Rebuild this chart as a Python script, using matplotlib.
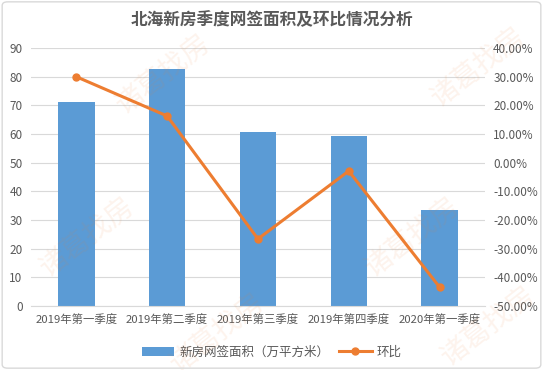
import matplotlib.pyplot as plt
import numpy as np
from matplotlib.patches import FancyBboxPatch
from matplotlib.ticker import FuncFormatter

plt.rcParams['font.family'] = ['Noto Sans CJK SC', 'DejaVu Sans']

quarters = ["2019年第一季度", "2019年第二季度", "2019年第三季度", "2019年第四季度", "2020年第一季度"]
area = [71.2, 82.7, 60.7, 59.2, 33.6]
qoq = [30.0, 16.3, -26.6, -2.9, -43.4]

bar_color = "#5b9bd5"
line_color = "#ed7d31"
text_color = "#595959"

fig = plt.figure(figsize=(5.43, 3.70), dpi=100, facecolor="white")
fig.patches.append(FancyBboxPatch((0.004, 0.005), 0.992, 0.99, boxstyle="round,pad=0,rounding_size=0.01",
                                  transform=fig.transFigure, fc="none", ec="#d9d9d9", lw=1, zorder=20))
ax = fig.add_axes([0.057, 0.173, 0.836, 0.697])
ax2 = ax.twinx()
ax.patch.set_visible(False)

x = np.arange(len(quarters))
ax.bar(x, area, width=0.4, color=bar_color, label="新房网签面积（万平方米）", zorder=2)
ax2.plot(x, qoq, color=line_color, lw=2.2, marker="o", ms=5, label="环比", zorder=3)

ax.set_ylim(0, 90)
ax.set_yticks(range(0, 91, 10))
ax2.set_ylim(-50, 40)
ax2.set_yticks(range(-50, 41, 10))
ax2.yaxis.set_major_formatter(FuncFormatter(lambda v, p: f"{v:.2f}%"))
ax.set_xlim(-0.5, len(quarters) - 0.5)
ax.set_xticks(x)
ax.set_xticklabels(quarters)

ax.grid(axis="y", color="#d9d9d9", lw=0.8, zorder=0)
ax.set_axisbelow(True)
for a in (ax, ax2):
    for s in a.spines.values():
        s.set_visible(False)
    a.tick_params(length=0, colors=text_color, labelsize=8.5)
ax.spines["bottom"].set_visible(True)
ax.spines["bottom"].set_color("#d9d9d9")
ax.tick_params(axis="x", pad=6, labelsize=8.2)
ax.tick_params(axis="y", pad=6)
ax2.tick_params(axis="y", pad=6)

fig.text(0.5, 0.945, "北海新房季度网签面积及环比情况分析", ha="center", va="center",
         fontsize=12, fontweight="bold", color=text_color)

h1, l1 = ax.get_legend_handles_labels()
h2, l2 = ax2.get_legend_handles_labels()
fig.legend(h1 + h2, l1 + l2, loc="center", bbox_to_anchor=(0.5, 0.048), ncol=2, frameon=False,
           fontsize=9, labelcolor=text_color, handlelength=2.6, columnspacing=0.8, handletextpad=0.4)

# watermark
for wx, wy in [(0.30, 0.80), (0.16, 0.36), (0.76, 0.36), (0.88, 0.82), (0.40, 0.10), (0.90, 0.12)]:
    fig.text(wx, wy, "诸葛找房", rotation=38, fontsize=20, fontweight="light", color=line_color,
             alpha=0.09, ha="center", va="center", zorder=10)

fig.savefig("out.png", dpi=100)
